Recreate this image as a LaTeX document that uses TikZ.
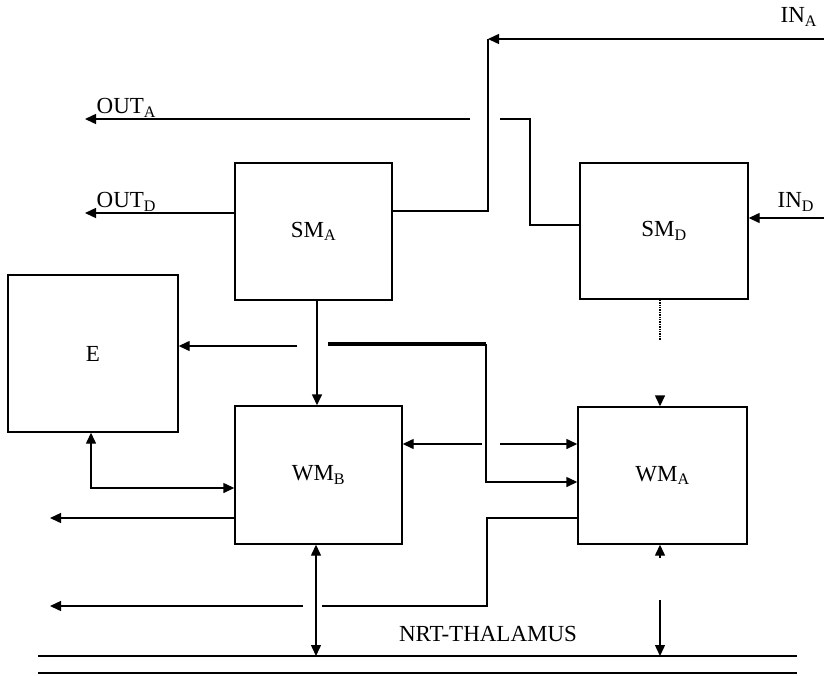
\documentclass[tikz,border=0pt]{standalone}
\usepackage{fontspec}
\setmainfont{Liberation Serif}
\usepackage{tikz}
\usetikzlibrary{arrows.meta}

\begin{document}
\begin{tikzpicture}[
  x=1pt, y=-1pt,
  line width=1.4pt,
  blk/.style={rectangle, draw, line width=1.4pt, align=center, font=\fontsize{23}{26}\selectfont, inner sep=0pt},
  lbl/.style={font=\fontsize{23}{26}\selectfont, inner sep=0pt},
  arr/.style={-{Triangle[length=11pt, width=10pt]}},
  arrb/.style={{Triangle[length=11pt, width=10pt]}-{Triangle[length=11pt, width=10pt]}},
  thk/.style={line width=3.2pt}
]
\useasboundingbox (0,0) rectangle (824,675);
% blocks
\node[blk, minimum width=157pt, minimum height=137pt] (smA) at (313.5,231.5) {SM\textsubscript{A}};
\node[blk, minimum width=168pt, minimum height=136pt] (smD) at (664,231) {SM\textsubscript{D}};
\node[blk, minimum width=170pt, minimum height=157pt] (e) at (93,353.5) {E};
\node[blk, minimum width=167pt, minimum height=138pt] (wmB) at (318.5,475) {WM\textsubscript{B}};
\node[blk, minimum width=169pt, minimum height=137pt] (wmA) at (662.5,475.5) {WM\textsubscript{A}};
% labels
\node[lbl, anchor=south west] (lInA) at (780,27) {IN\textsubscript{A}};
\node[lbl, anchor=south west] (lOutA) at (96,118) {OUT\textsubscript{A}};
\node[lbl, anchor=south west] (lOutD) at (96,212) {OUT\textsubscript{D}};
\node[lbl, anchor=south west] (lInD) at (777,212) {IN\textsubscript{D}};
\node[lbl] (nrt) at (488,634) {NRT-THALAMUS};
% helper points
\coordinate (inA) at (824,39);
\coordinate (cA) at (488,39);
\coordinate (jA) at (488,211);
\coordinate (kD) at (530,225);
\coordinate (oA) at (530,119);
\coordinate (gAr) at (500,119);
\coordinate (gAl) at (470,119);
\coordinate (outA) at (85,119);
\coordinate (outD) at (85,213);
\coordinate (inD) at (824,218);
\coordinate (eIn) at (297,346);
\coordinate (tk) at (328,344);
\coordinate (tc) at (486,344);
\coordinate (td) at (486,482);
\coordinate (mL) at (482,444);
\coordinate (mR) at (500,444);
\coordinate (eb) at (91,488);
\coordinate (lo1) at (50,518);
\coordinate (wa) at (487,518);
\coordinate (wb) at (487,606);
\coordinate (gBr) at (322,606);
\coordinate (gBl) at (303,606);
\coordinate (lo2) at (50,606);
\coordinate (vB) at (316,656);
\coordinate (vA) at (660,656);
\coordinate (dA1) at (660,340);
\coordinate (dA2) at (660,396);
\coordinate (uA) at (660,558);
\coordinate (dA3) at (660,600);
\coordinate (n1) at (38,656);
\coordinate (n2) at (797,656);
\coordinate (n3) at (38,673);
\coordinate (n4) at (797,673);
% connectors
\draw[arr] (inA) -- (cA);
\draw (cA) -- (jA) -- (jA -| smA.east);
\draw (kD -| smD.west) -- (kD) -- (oA) -- (gAr);
\draw[arr] (gAl) -- (outA);
\draw[arr] (smA.west |- outD) -- (outD);
\draw[arr] (inD) -- (inD -| smD.east);
\draw[arr] ([xshift=3.5pt]smA.south) -- ([xshift=3.5pt]smA.south |- wmB.north);
\draw[arr] (eIn) -- (eIn -| e.east);
\draw[thk] (tk) -- (tc);
\draw[arr] (tc) -- (td) -- (td -| wmA.west);
\draw[arr] (mL) -- (mL -| wmB.east);
\draw[arr] (mR) -- (mR -| wmA.west);
\draw[arrb] (eb |- e.south) -- (eb) -- (eb -| wmB.west);
\draw[arr] (lo1 -| wmB.west) -- (lo1);
\draw (wa -| wmA.west) -- (wa) -- (wb) -- (gBr);
\draw[arr] (gBl) -- (lo2);
\draw[arrb] (vB |- wmB.south) -- (vB);
\draw[densely dotted] (dA1 |- smD.south) -- (dA1);
\draw[arr] (dA2) -- (dA2 |- wmA.north);
\draw[arr] (uA) -- (uA |- wmA.south);
\draw[arr] (dA3) -- (vA);
\draw (n1) -- (n2);
\draw (n3) -- (n4);
\end{tikzpicture}
\end{document}
